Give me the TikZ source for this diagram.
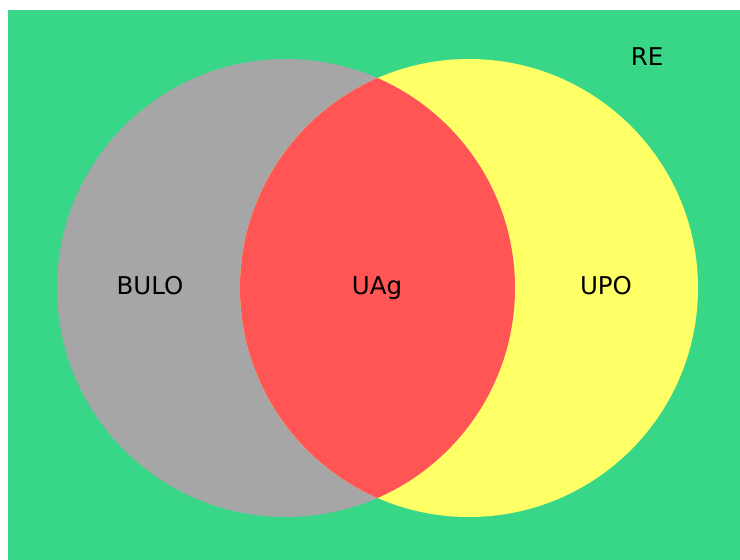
\documentclass[tikz,border=0pt]{standalone}
\usepackage{fontspec}
\setmainfont{DejaVu Sans}
\definecolor{bggreen}{HTML}{37D787}
\definecolor{lgray}{HTML}{A6A6A6}
\definecolor{lyellow}{HTML}{FFFF66}
\definecolor{lred}{HTML}{FF5555}
\begin{document}
\begin{tikzpicture}[x=1pt,y=-1pt,
  lbl/.style={font=\fontsize{24.5}{28}\selectfont, text=black, inner sep=0pt, anchor=base}]
\useasboundingbox (0,0) rectangle (740,560);
\fill[bggreen] (8,10) rectangle (740,560);
\fill[lgray] (286,288) circle[radius=229];
\fill[lyellow] (469,288) circle[radius=229];
\begin{scope}
  \clip (286,288) circle[radius=229];
  \fill[lred] (469,288) circle[radius=229];
\end{scope}
\node[lbl] (bulo) at (150,294) {BULO};
\node[lbl] (uag) at (377,294) {UAg};
\node[lbl] (upo) at (606,294) {UPO};
\node[lbl] (re) at (647,65) {RE};
\end{tikzpicture}
\end{document}
